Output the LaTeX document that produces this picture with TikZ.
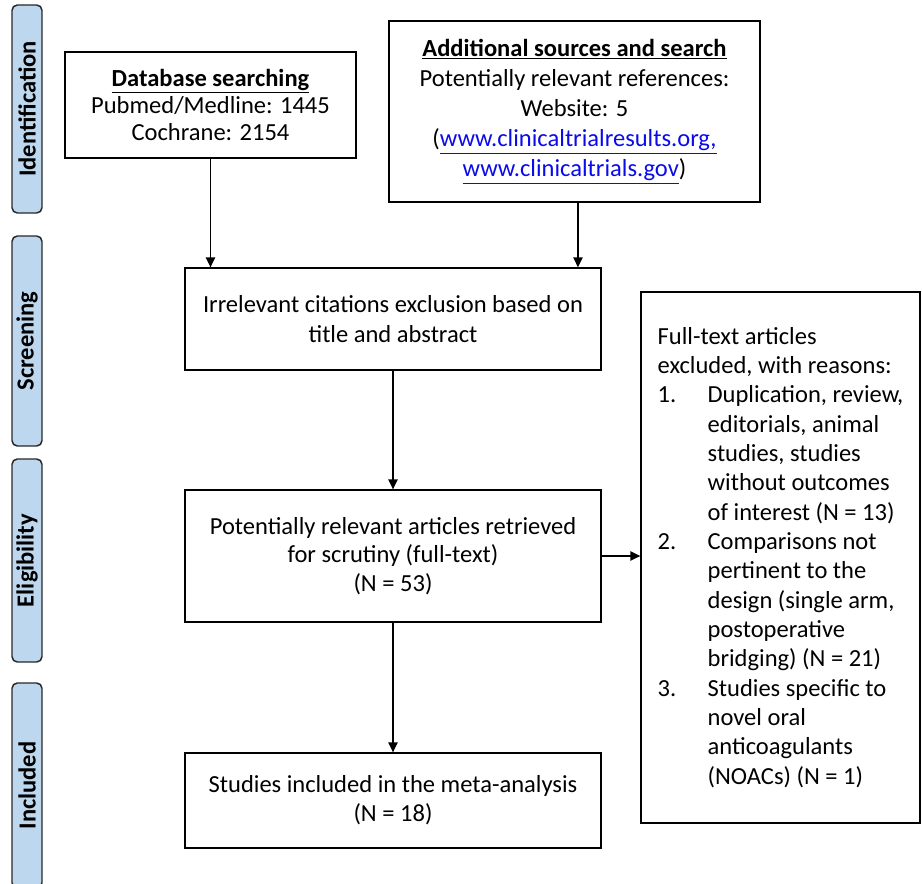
\documentclass[tikz,border=0pt]{standalone}
\usepackage{fontspec}
\setmainfont{Carlito}
\usepackage{tikz}
\usetikzlibrary{arrows.meta,positioning}

\definecolor{barblue}{RGB}{189,215,238}
\definecolor{barline}{RGB}{40,40,40}
\definecolor{linkblue}{RGB}{10,10,235}

\newcommand{\lnk}[1]{{\color{linkblue}\underline{#1}}}
\newcommand{\itemnum}[1]{\makebox[37.5pt][l]{#1}}
\newcommand{\itemgap}{\hspace*{37.5pt}}

\tikzset{
  box/.style={draw, line width=1pt, align=center, inner sep=0pt},
  phase/.style={draw=barline, line width=1.1pt, fill=barblue, rounded corners=4pt,
    rotate=90, minimum height=22.5pt, inner sep=0pt,
    font=\fontsize{18.4}{20.6}\selectfont\bfseries},
}

\begin{document}
\begin{tikzpicture}[x=0.75pt,y=-0.75pt,font=\fontsize{18.4}{20.6}\selectfont,
  >={Triangle[length=7.5pt,width=7pt]}]
			\useasboundingbox (0,0) rectangle (922,883);

			% stages
			\node (ident) [phase, minimum width=156pt] at (27,109) {Identification};
			\node (screen) [phase, minimum width=157.5pt] at (27,341) {Screening};
			\node (elig-s) [phase, minimum width=152.25pt] at (27,560.5) {Eligibility};
			\node (incl-s) [phase, minimum width=153.75pt] at (27,785.5) {Included};

			% boxes
			\node (db) [box, minimum width=218.25pt, minimum height=79.5pt,
			  font=\fontsize{18.4}{20.3}\selectfont] at (210.5,105)
			  {\textbf{\underline{Database searching}}\\ Pubmed/Medline: 1445\\ Cochrane: 2154};
			\node (add) [box, minimum width=278.25pt, minimum height=135.75pt,
			  font=\fontsize{18.4}{22.5}\selectfont] at (574.5,111.5)
			  {\textbf{\underline{Additional sources and search}}\\ Potentially relevant references:\\
			   Website: 5\\ (\lnk{www.clinicaltrialresults.org,}\\ \lnk{www.clinicaltrials.gov})};
			\node (irr) [box, minimum width=312pt, minimum height=76.5pt,
			  font=\fontsize{18.4}{22.5}\selectfont] at (393,319)
			  {Irrelevant citations exclusion based on\\ title and abstract};
			\node (elig) [box, minimum width=312pt, minimum height=99pt,
			  font=\fontsize{18.4}{21.4}\selectfont] at (393,556)
			  {Potentially relevant articles retrieved\\ for scrutiny (full-text)\\ (N = 53)};
			\node (incl) [box, minimum width=312pt, minimum height=71.25pt,
			  font=\fontsize{18.4}{21.8}\selectfont] at (393,800.5)
			  {Studies included in the meta-analysis\\ (N = 18)};
			\node (excl) [box, align=left, minimum width=209.25pt, minimum height=398.25pt,
			  font=\fontsize{18.4}{22}\selectfont] at (780.5,557.5)
			  {Full-text articles\\
			   excluded, with reasons:\\
			   \itemnum{1.}Duplication, review,\\
			   \itemgap editorials, animal\\
			   \itemgap studies, studies\\
			   \itemgap without outcomes\\
			   \itemgap of interest (N = 13)\\
			   \itemnum{2.}Comparisons not\\
			   \itemgap pertinent to the\\
			   \itemgap design (single arm,\\
			   \itemgap postoperative\\
			   \itemgap bridging) (N = 21)\\
			   \itemnum{3.}Studies specific to\\
			   \itemgap novel oral\\
			   \itemgap anticoagulants\\
			   \itemgap (NOACs) (N = 1)};

			\draw [line width=1pt,->] (db.south) -- (db.south |- irr.north);
			\draw [line width=1pt,->] ([xshift=2.6pt]add.south) -- ([xshift=2.6pt]add.south |- irr.north);
			\draw [line width=1pt,->] (irr.south) -- (elig.north);
			\draw [line width=1pt,->] (elig.south) -- (incl.north);
			\draw [line width=1pt,->] (elig.east) -- (elig.east -| excl.west);
		\end{tikzpicture}
\end{document}
